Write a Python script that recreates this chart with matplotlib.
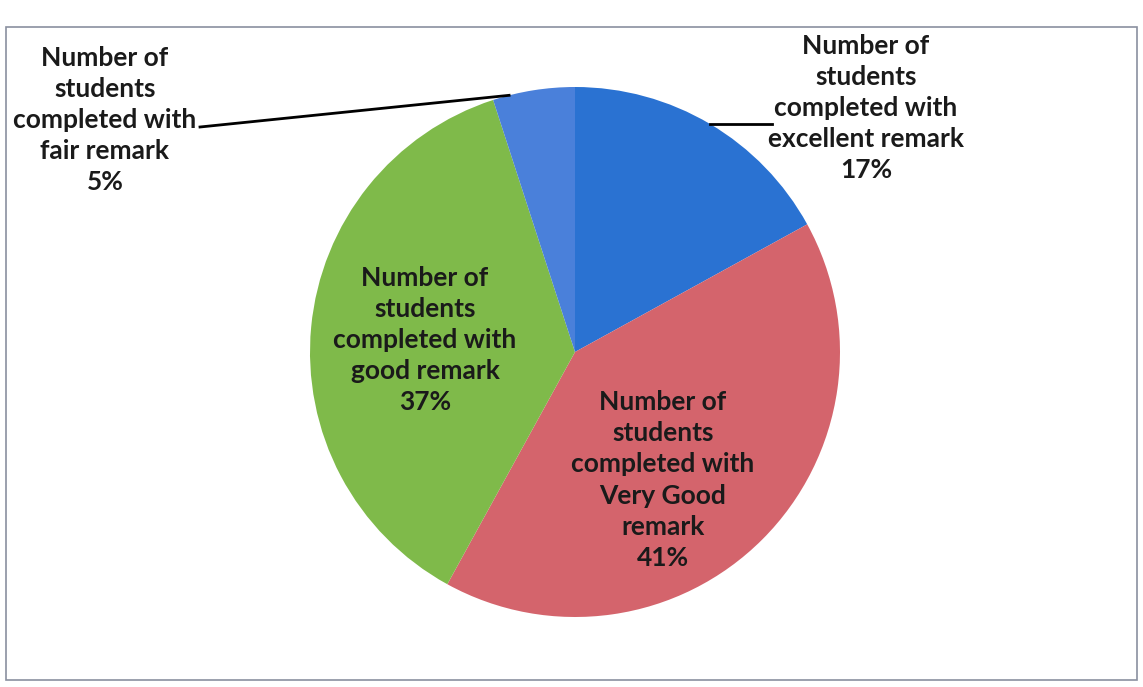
import numpy as np
import matplotlib
matplotlib.use('Agg')
from matplotlib import pyplot as plt
from matplotlib.patches import Rectangle

# data
labels = ['Number of\nstudents\ncompleted with\nexcellent remark',
          'Number of\nstudents\ncompleted with\nVery Good\nremark',
          'Number of\nstudents\ncompleted with\ngood remark',
          'Number of\nstudents\ncompleted with\nfair remark']
values = [17, 41, 37, 5]
colors = ['#2a72d2', '#d4646c', '#7fba4a', '#4a80da']

W, H = 1143, 687
fig = plt.figure(figsize=(W / 100, H / 100), dpi=100)
ax = fig.add_axes([0, 0, 1, 1])

# outer frame
fig.patches.append(Rectangle((6 / W, 7 / H), 1131 / W, 653 / H, transform=fig.transFigure,
                             fill=False, edgecolor='#8a90a0', linewidth=1.2))

cx, cy, r = 575, H - 352, 265
wedges, _ = ax.pie(values, colors=colors, startangle=90, counterclock=False,
                   center=(cx, cy), radius=r, frame=True,
                   wedgeprops=dict(linewidth=0))
ax.set_xlim(0, W)
ax.set_ylim(0, H)
ax.set_aspect('equal')
ax.axis('off')

font = dict(family=['Lato', 'DejaVu Sans'], fontweight='bold', fontsize=19,
            color='#1a1a1a', ha='center', va='center', linespacing=1.36)

pct = ['%d%%' % v for v in values]
# label positions (pixels from top-left)
pos = [(866, 108), (663, 480), (425, 340), (105, 120)]
for i, (lab, p) in enumerate(zip(labels, pos)):
    ax.text(p[0], H - p[1], lab + '\n' + pct[i], **font)

# leader lines
def edge_point(w, f=0.5):
    ang = np.deg2rad(w.theta1 + (w.theta2 - w.theta1) * f)
    return cx + r * np.cos(ang), cy + r * np.sin(ang)

ex, ey = edge_point(wedges[0])
ax.plot([ex, 772], [ey, ey], color='black', lw=2)
fx, fy = edge_point(wedges[3], 0.8)
ax.plot([200, fx], [H - 127, fy], color='black', lw=2)

fig.savefig('out.png', dpi=100, facecolor='white')
